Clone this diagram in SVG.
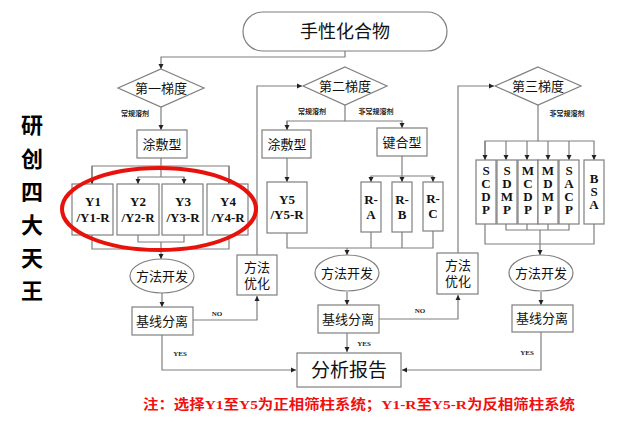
<svg xmlns="http://www.w3.org/2000/svg" width="630" height="424" viewBox="0 0 630 424">
<style>
.b{fill:#fff;stroke:#7f7f7f;stroke-width:1.2}
.l{fill:none;stroke:#7f7f7f;stroke-width:1.2}
.t{font-family:"Noto Sans CJK SC","Liberation Sans",sans-serif;font-size:13px;fill:#111;text-anchor:middle}
.s{font-family:"Liberation Serif","Noto Sans CJK SC",serif;font-size:13px;font-weight:bold;fill:#111;text-anchor:middle}
.m{font-family:"Noto Sans CJK SC",sans-serif;font-size:7px;font-weight:bold;fill:#222;text-anchor:middle}
.y{font-family:"Liberation Serif",serif;font-size:7px;font-weight:bold;fill:#222;text-anchor:middle}
</style>
<defs><marker id="a" markerWidth="6" markerHeight="6" refX="5" refY="3" orient="auto" markerUnits="userSpaceOnUse"><path d="M0,0.5L5,3L0,5.5z" fill="#222"/></marker></defs>
<g id="connectors" class="l" marker-end="url(#a)">
<path d="M345,51V57H161V69"/>
<path d="M161,107V130"/>
<path d="M161,158V166H92V184M161,166H229V184M161,166V177H138V184M161,177H184V184" marker-end="none"/>
<path d="M92,166V184"/><path d="M229,166V184"/><path d="M138,177V184"/><path d="M184,177V184"/>
<path d="M92,235V249H229V235M138,235V242H184V235M161,242V249" marker-end="none"/>
<path d="M161,249V259"/>
<path d="M162,293V307"/>
<path d="M193,320H257V296"/>
<path d="M162,335V370H296"/>
<path d="M257,255V86H302"/>
<path d="M345,105V121H287V130" marker-end="none"/><path d="M287,121V130"/>
<path d="M345,121H402V128"/>
<path d="M287,158V182"/>
<path d="M402,156V182"/><path d="M402,176H371V182"/><path d="M402,176H433V182"/>
<path d="M287,233V248H433V231M371,232V248M402,232V248" marker-end="none"/>
<path d="M347,248V255"/>
<path d="M347,292V305"/>
<path d="M347,333V352"/>
<path d="M379,319H458V295"/>
<path d="M458,253V86H494"/>
<path d="M538,105V141H485V160" marker-end="none"/>
<path d="M485,141V160"/><path d="M506,141V160"/><path d="M527,141V160"/><path d="M548,141V160"/><path d="M569,141V160"/><path d="M538,141H594V160"/>
<path d="M485,224V244H594V224M506,224V230H569V224M527,224V230M548,224V230" marker-end="none"/>
<path d="M540,230V255"/>
<path d="M541,292V305"/>
<path d="M541,332V370H402"/>
</g>
<g id="labels">
<text class="m" x="135" y="116">常规溶剂</text>
<text class="m" x="312" y="114">常规溶剂</text>
<text class="m" x="376" y="114">非常规溶剂</text>
<text class="m" x="567" y="116">非常规溶剂</text>
<text class="y" x="217" y="316">NO</text>
<text class="y" x="420" y="313">NO</text>
<text class="y" x="180" y="356">YES</text>
<text class="y" x="364" y="346">YES</text>
<text class="y" x="527" y="355">YES</text>
</g>
<g id="n-top"><rect class="b" x="243" y="12" width="204" height="39" rx="19.5"/><text class="t" x="345" y="38" style="font-size:18px">手性化合物</text></g>
<g id="n-d1"><polygon class="b" points="161,69 204,88 161,107 118,88"/><text class="t" x="161" y="93">第一梯度</text></g>
<g id="n-d2"><polygon class="b" points="345,67 387,86 345,105 303,86"/><text class="t" x="345" y="91">第二梯度</text></g>
<g id="n-d3"><polygon class="b" points="538,67 581,86 538,105 495,86"/><text class="t" x="538" y="91">第三梯度</text></g>
<g id="n-c1"><rect class="b" x="137" y="130" width="50" height="28"/><text class="t" x="162" y="149">涂敷型</text></g>
<g id="n-c2"><rect class="b" x="262" y="130" width="49" height="28"/><text class="t" x="287" y="149">涂敷型</text></g>
<g id="n-k"><rect class="b" x="377" y="128" width="50" height="28"/><text class="t" x="402" y="147">键合型</text></g>
<g id="n-y1"><rect class="b" x="72" y="184" width="41" height="51"/><text class="s" x="93" y="206">Y1</text><text class="s" x="93" y="222">/Y1-R</text></g>
<g id="n-y2"><rect class="b" x="117" y="184" width="42" height="51"/><text class="s" x="138" y="206">Y2</text><text class="s" x="138" y="222">/Y2-R</text></g>
<g id="n-y3"><rect class="b" x="162" y="184" width="41" height="51"/><text class="s" x="183" y="206">Y3</text><text class="s" x="183" y="222">/Y3-R</text></g>
<g id="n-y4"><rect class="b" x="207" y="184" width="41" height="51"/><text class="s" x="228" y="206">Y4</text><text class="s" x="228" y="222">/Y4-R</text></g>
<g id="n-y5"><rect class="b" x="267" y="182" width="40" height="51"/><text class="s" x="287" y="204">Y5</text><text class="s" x="287" y="219">/Y5-R</text></g>
<g id="n-ra"><rect class="b" x="361" y="182" width="20" height="50"/><text class="s" x="371" y="204">R-</text><text class="s" x="371" y="219">A</text></g>
<g id="n-rb"><rect class="b" x="392" y="182" width="20" height="50"/><text class="s" x="402" y="204">R-</text><text class="s" x="402" y="219">B</text></g>
<g id="n-rc"><rect class="b" x="423" y="182" width="20" height="49"/><text class="s" x="433" y="203">R-</text><text class="s" x="433" y="218">C</text></g>
<g id="n-scdp"><rect class="b" x="476" y="160" width="20" height="64"/><text class="s" x="486" y="175">S</text><text class="s" x="486" y="188">C</text><text class="s" x="486" y="201">D</text><text class="s" x="486" y="214">P</text></g>
<g id="n-sdmp"><rect class="b" x="497" y="160" width="20" height="64"/><text class="s" x="507" y="175">S</text><text class="s" x="507" y="188">D</text><text class="s" x="507" y="201">M</text><text class="s" x="507" y="214">P</text></g>
<g id="n-mcdp"><rect class="b" x="518" y="160" width="20" height="64"/><text class="s" x="528" y="175">M</text><text class="s" x="528" y="188">C</text><text class="s" x="528" y="201">D</text><text class="s" x="528" y="214">P</text></g>
<g id="n-mdmp"><rect class="b" x="538" y="160" width="20" height="64"/><text class="s" x="548" y="175">M</text><text class="s" x="548" y="188">D</text><text class="s" x="548" y="201">M</text><text class="s" x="548" y="214">P</text></g>
<g id="n-sacp"><rect class="b" x="559" y="160" width="20" height="64"/><text class="s" x="569" y="175">S</text><text class="s" x="569" y="188">A</text><text class="s" x="569" y="201">C</text><text class="s" x="569" y="214">P</text></g>
<g id="n-bsa"><rect class="b" x="584" y="160" width="20" height="64"/><text class="s" x="594" y="183">B</text><text class="s" x="594" y="196">S</text><text class="s" x="594" y="209">A</text></g>
<g id="n-e1"><ellipse class="b" cx="162" cy="276" rx="32" ry="17"/><text class="t" x="162" y="281">方法开发</text></g>
<g id="n-e2"><ellipse class="b" cx="347" cy="273" rx="32" ry="18"/><text class="t" x="347" y="278">方法开发</text></g>
<g id="n-e3"><ellipse class="b" cx="541" cy="273" rx="32" ry="18"/><text class="t" x="541" y="278">方法开发</text></g>
<g id="n-o1"><rect class="b" x="237" y="255" width="40" height="40"/><text class="t" x="257" y="272">方法</text><text class="t" x="257" y="288">优化</text></g>
<g id="n-o2"><rect class="b" x="437" y="253" width="41" height="41"/><text class="t" x="458" y="270">方法</text><text class="t" x="458" y="286">优化</text></g>
<g id="n-j1"><rect class="b" x="132" y="307" width="61" height="28"/><text class="t" x="162" y="326">基线分离</text></g>
<g id="n-j2"><rect class="b" x="318" y="305" width="61" height="28"/><text class="t" x="348" y="324">基线分离</text></g>
<g id="n-j3"><rect class="b" x="512" y="305" width="61" height="27"/><text class="t" x="542" y="323">基线分离</text></g>
<g id="n-rep"><rect class="b" x="297" y="353" width="104" height="34"/><text class="t" x="349" y="377" style="font-size:19px">分析报告</text></g>
<ellipse cx="159" cy="209" rx="97" ry="41" fill="none" stroke="#e8120c" stroke-width="4"/>
<g id="side" font-family="Noto Sans CJK SC,sans-serif" font-size="22" font-weight="bold" fill="#000" text-anchor="middle">
<text x="32" y="133">研</text><text x="32" y="167">创</text><text x="32" y="200">四</text><text x="32" y="233">大</text><text x="32" y="266">天</text><text x="32" y="299">王</text>
</g>
<text x="359" y="409" font-family="Liberation Serif,Noto Sans CJK SC,serif" font-size="13.5" font-weight="bold" fill="#f01010" text-anchor="middle" textLength="432" lengthAdjust="spacingAndGlyphs">注：选择Y1至Y5为正相筛柱系统；Y1-R至Y5-R为反相筛柱系统</text>
</svg>
